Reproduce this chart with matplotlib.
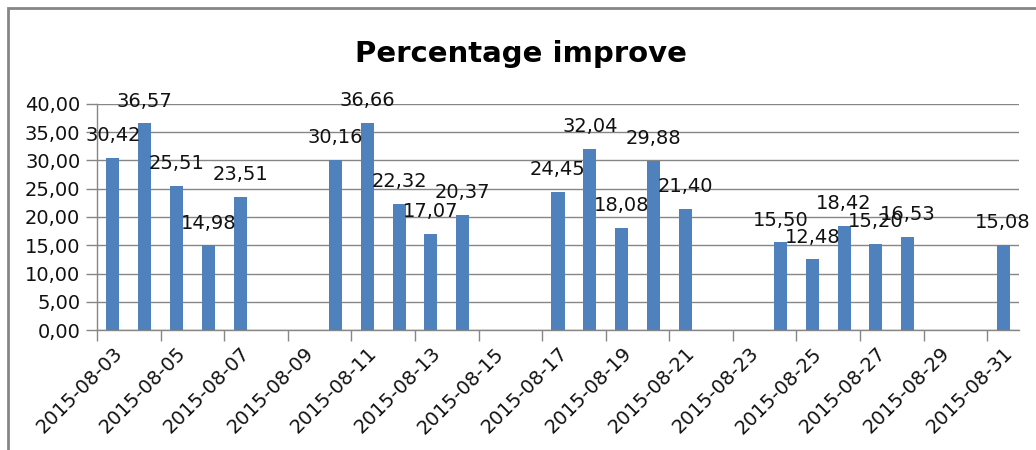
import numpy as np
import pandas as pd
import matplotlib
matplotlib.use("Agg")
import matplotlib.pyplot as plt
import matplotlib.dates as mdates
from matplotlib.patches import Rectangle

# Daily percentage improvement (weekdays only)
dates = ["2015-08-03", "2015-08-04", "2015-08-05", "2015-08-06", "2015-08-07",
         "2015-08-10", "2015-08-11", "2015-08-12", "2015-08-13", "2015-08-14",
         "2015-08-17", "2015-08-18", "2015-08-19", "2015-08-20", "2015-08-21",
         "2015-08-24", "2015-08-25", "2015-08-26", "2015-08-27", "2015-08-28",
         "2015-08-31"]
values = [30.42, 36.57, 25.51, 14.98, 23.51,
          30.16, 36.66, 22.32, 17.07, 20.37,
          24.45, 32.04, 18.08, 29.88, 21.40,
          15.50, 12.48, 18.42, 15.20, 16.53,
          15.08]
tick_dates = ["2015-08-03", "2015-08-05", "2015-08-07", "2015-08-09", "2015-08-11",
              "2015-08-13", "2015-08-15", "2015-08-17", "2015-08-19", "2015-08-21",
              "2015-08-23", "2015-08-25", "2015-08-27", "2015-08-29", "2015-08-31"]
y_ticks = [0, 5, 10, 15, 20, 25, 30, 35, 40]
title = "Percentage improve"

BAR = "#4F81BD"
GRID = "#868686"
TEXT = "#111111"
FONT = "DejaVu Sans"

plt.rcParams["font.family"] = [FONT]

fig = plt.figure(figsize=(10.36, 4.5), dpi=100)
ax = fig.add_axes([97 / 1036, 1 - 330 / 450, (1019 - 97) / 1036, (330 - 104) / 450])

half_day = pd.Timedelta(hours=12)
x = mdates.date2num(pd.to_datetime(dates) + half_day)
ax.bar(x, values, width=0.41, color=BAR, zorder=3)

for xi, v in zip(x, values):
    ax.annotate(f"{v:.2f}".replace(".", ","), (xi, v), xytext=(0, 16),
                textcoords="offset points", ha="center", va="center",
                fontsize=14, color=TEXT, zorder=4)

start = mdates.date2num(pd.Timestamp("2015-08-03"))
ax.set_xlim(start, start + 29)
ax.set_ylim(0, 40)

# Major ticks on day boundaries, labels centred in each day cell
tk = mdates.date2num(pd.to_datetime(tick_dates))
ax.set_xticks(tk)
ax.set_xticklabels([])
ax.set_xticks(tk + 0.5, minor=True)
ax.set_xticklabels(tick_dates, minor=True, rotation=45, ha="right",
                   rotation_mode="anchor", fontsize=14, color=TEXT)
ax.tick_params(axis="x", which="minor", length=0, pad=10)
ax.tick_params(axis="x", which="major", length=8, color=GRID, width=1)

ax.set_yticks(y_ticks)
ax.set_yticklabels([f"{t:.2f}".replace(".", ",") for t in y_ticks],
                   fontsize=14, color=TEXT)
ax.tick_params(axis="y", length=8, color=GRID, width=1, pad=4)

ax.yaxis.grid(True, color=GRID, linewidth=1)
ax.set_axisbelow(True)
for side in ("top", "right"):
    ax.spines[side].set_visible(False)
for side in ("left", "bottom"):
    ax.spines[side].set_color(GRID)
    ax.spines[side].set_linewidth(1)

fig.text(521 / 1036, 1 - 54 / 450, title, ha="center", va="center",
         fontsize=21, fontweight="bold", color="black")

# Chart area frame
fig.patches.append(Rectangle((8 / 1036, -0.1), 1.2, 1 - 8 / 450 + 0.1,
                             transform=fig.transFigure, fill=False,
                             edgecolor=GRID, linewidth=2))

fig.savefig("out.png", dpi=100)
